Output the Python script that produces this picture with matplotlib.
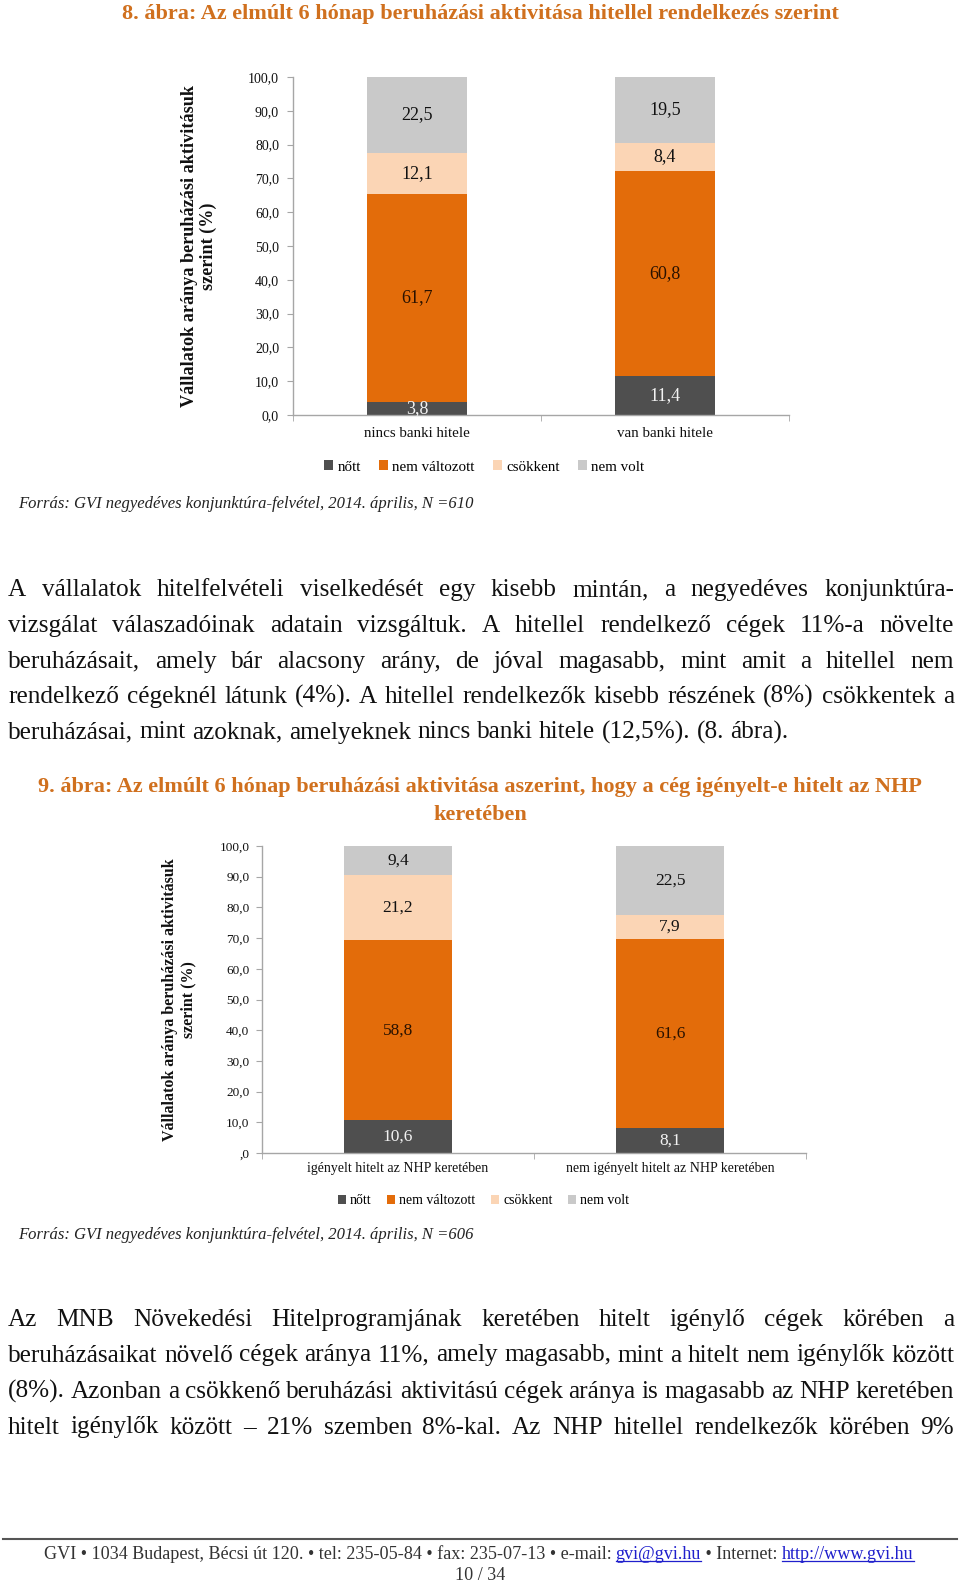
import matplotlib
matplotlib.use("Agg")
import matplotlib.pyplot as plt
from matplotlib.patches import Patch

# ---------------- data ----------------
series_names = ["nőtt", "nem változott", "csökkent", "nem volt"]
series_colors = ["#4F4F4F", "#E36C0A", "#FBD5B5", "#C9C9C9"]
label_colors = ["#F2F2F2", "#2A1200", "#111111", "#111111"]

categories_1 = ["nincs banki hitele", "van banki hitele"]
nott_1 = [3.8, 11.4]
nem_valtozott_1 = [61.7, 60.8]
csokkent_1 = [12.1, 8.4]
nem_volt_1 = [22.5, 19.5]

categories_2 = ["igényelt hitelt az NHP keretében", "nem igényelt hitelt az NHP keretében"]
nott_2 = [10.6, 8.1]
nem_valtozott_2 = [58.8, 61.6]
csokkent_2 = [21.2, 7.9]
nem_volt_2 = [9.4, 22.5]

yticks = [0, 10, 20, 30, 40, 50, 60, 70, 80, 90, 100]
yticklabels_1 = ["0,0", "10,0", "20,0", "30,0", "40,0", "50,0", "60,0", "70,0", "80,0", "90,0", "100,0"]
yticklabels_2 = [",0", "10,0", "20,0", "30,0", "40,0", "50,0", "60,0", "70,0", "80,0", "90,0", "100,0"]

title_1 = "8. ábra: Az elmúlt 6 hónap beruházási aktivitása hitellel rendelkezés szerint"
title_2a = "9. ábra: Az elmúlt 6 hónap beruházási aktivitása aszerint, hogy a cég igényelt-e hitelt az NHP"
title_2b = "keretében"
ylabel = "Vállalatok aránya beruházási aktivitásuk\nszerint (%)"
source_1 = "Forrás: GVI negyedéves konjunktúra-felvétel, 2014. április, N =610"
source_2 = "Forrás: GVI negyedéves konjunktúra-felvétel, 2014. április, N =606"

para_1 = [
    "A vállalatok hitelfelvételi viselkedését egy kisebb mintán, a negyedéves konjunktúra-",
    "vizsgálat válaszadóinak adatain vizsgáltuk. A hitellel rendelkező cégek 11%-a növelte",
    "beruházásait, amely bár alacsony arány, de jóval magasabb, mint amit a hitellel nem",
    "rendelkező cégeknél látunk (4%). A hitellel rendelkezők kisebb részének (8%) csökkentek a",
    "beruházásai, mint azoknak, amelyeknek nincs banki hitele (12,5%). (8. ábra).",
]
para_2 = [
    "Az MNB Növekedési Hitelprogramjának keretében hitelt igénylő cégek körében a",
    "beruházásaikat növelő cégek aránya 11%, amely magasabb, mint a hitelt nem igénylők között",
    "(8%). Azonban a csökkenő beruházási aktivitású cégek aránya is magasabb az NHP keretében",
    "hitelt igénylők között – 21% szemben 8%-kal. Az NHP hitellel rendelkezők körében 9%",
]
footer_parts = [
    ("GVI • 1034 Budapest, Bécsi út 120. • tel: 235-05-84 • fax: 235-07-13 • e-mail: ", False),
    ("gvi@gvi.hu", True),
    (" • Internet: ", False),
    ("http://www.gvi.hu", True),
]
page_no = "10 / 34"

# ---------------- layout helpers ----------------
W, H = 960, 1586
SERIF = ["Liberation Serif", "DejaVu Serif"]
TITLE_COLOR = "#D0701E"
plt.rcParams["font.family"] = SERIF

fig = plt.figure(figsize=(W / 100, H / 100), dpi=100)
fig.patch.set_facecolor("white")
renderer = fig.canvas.get_renderer()


def fx(x):
    return x / W


def fy(y):
    return 1 - y / H


def width_of(t):
    return t.get_window_extent(renderer).width


def fit_width(t, target):
    w = width_of(t)
    t.set_fontsize(t.get_fontsize() * target / w)


def make_chart(rect, cats, vals, ytl, tick_fs, lab_fs, cat_fs, cat_pad, ypad):
    l, b, w, h = rect
    ax = fig.add_axes([fx(l), fy(b), w / W, h / H])
    x = list(range(len(cats)))
    bottoms = [0.0] * len(cats)
    for s, (v, col, lc) in enumerate(zip(vals, series_colors, label_colors)):
        ax.bar(x, v, width=0.4, bottom=bottoms, color=col, edgecolor="none",
               label=series_names[s], zorder=2)
        for i in x:
            ax.text(i, bottoms[i] + v[i] / 2, f"{v[i]:.1f}".replace(".", ","),
                    ha="center", va="center", fontsize=lab_fs, color=lc, zorder=3)
        bottoms = [bb + vv for bb, vv in zip(bottoms, v)]
    ax.set_xlim(-0.5, len(cats) - 0.5)
    ax.set_ylim(0, 100)
    ax.set_yticks(yticks)
    ax.set_yticklabels(ytl, fontsize=tick_fs)
    ax.set_xticks(x)
    ax.set_xticklabels(cats, fontsize=cat_fs)
    ax.set_xticks([i - 0.5 for i in range(len(cats) + 1)], minor=True)
    for sp in ["top", "right"]:
        ax.spines[sp].set_visible(False)
    for sp in ["left", "bottom"]:
        ax.spines[sp].set_color("#A6A6A6")
        ax.spines[sp].set_linewidth(1.0)
    ax.tick_params(axis="y", length=4, color="#A6A6A6", pad=ypad, labelcolor="#111111")
    ax.tick_params(axis="x", which="major", length=0, pad=cat_pad, labelcolor="#111111")
    ax.tick_params(axis="x", which="minor", length=4, color="#A6A6A6")
    ax.set_facecolor("none")
    return ax


# ---------------- titles ----------------
t = fig.text(0.5, fy(14), title_1, ha="center", va="center", fontsize=16,
             fontweight="bold", color=TITLE_COLOR)
fit_width(t, 719)

t = fig.text(0.5, fy(787), title_2a, ha="center", va="center", fontsize=16,
             fontweight="bold", color=TITLE_COLOR)
fit_width(t, 888)
fs_t2 = t.get_fontsize()
fig.text(0.5, fy(815), title_2b, ha="center", va="center", fontsize=fs_t2,
         fontweight="bold", color=TITLE_COLOR)

# ---------------- chart 1 ----------------
ax1 = make_chart((293, 415, 496, 338), categories_1,
                 [nott_1, nem_valtozott_1, csokkent_1, nem_volt_1],
                 yticklabels_1, tick_fs=10, lab_fs=13, cat_fs=10.8, cat_pad=8.5, ypad=6)
t = fig.text(fx(199), fy(246), ylabel, rotation=90, ha="center", va="center",
             multialignment="center", fontsize=13, fontweight="bold", color="#111111",
             linespacing=1.2)
t.set_fontsize(13 * 319 / t.get_window_extent(renderer).height)

handles = [Patch(facecolor=c, edgecolor="none") for c in series_colors]
fig.legend(handles, series_names, loc="center", bbox_to_anchor=(fx(484), fy(467)),
           ncol=4, frameon=False, fontsize=10.8, handlelength=0.6, handleheight=0.6,
           handletextpad=0.3, columnspacing=1.2, borderaxespad=0)

t = fig.text(fx(18), fy(504), source_1, ha="left", va="center", fontsize=12,
             style="italic", color="#222222")
fit_width(t, 454)

# ---------------- chart 2 ----------------
ax2 = make_chart((262, 1153, 544, 307), categories_2,
                 [nott_2, nem_valtozott_2, csokkent_2, nem_volt_2],
                 yticklabels_2, tick_fs=9.5, lab_fs=12.5, cat_fs=10, cat_pad=6.5, ypad=5)
t = fig.text(fx(179), fy(1000), ylabel, rotation=90, ha="center", va="center",
             multialignment="center", fontsize=12, fontweight="bold", color="#111111",
             linespacing=1.2)
t.set_fontsize(12 * 281 / t.get_window_extent(renderer).height)

fig.legend(handles, series_names, loc="center", bbox_to_anchor=(fx(483.5), fy(1201)),
           ncol=4, frameon=False, fontsize=10, handlelength=0.6, handleheight=0.6,
           handletextpad=0.3, columnspacing=1.1, borderaxespad=0)

t = fig.text(fx(18), fy(1235), source_2, ha="left", va="center", fontsize=12,
             style="italic", color="#222222")
fit_width(t, 454)

# ---------------- paragraphs (justified) ----------------
X0, X1 = 8, 954
probe = fig.text(0, 0, para_1[-1], fontsize=10)
body_fs = 10 * 782 / width_of(probe)
probe.remove()


def put_line(line, y_center, justify):
    fs = body_fs
    words = line.split(" ")
    ts = [fig.text(0, 0, w_, fontsize=fs, va="baseline", ha="left", color="#111111")
          for w_ in words]
    full = fig.text(0, 0, line, fontsize=fs)
    ws = [width_of(tt) for tt in ts]
    space = (width_of(full) - sum(ws)) / max(len(words) - 1, 1)
    full.remove()
    if justify:
        gap = (X1 - X0 - sum(ws)) / max(len(words) - 1, 1)
        if gap < space * 0.55:
            scale = (X1 - X0 - space * 0.55 * (len(words) - 1)) / sum(ws)
            for tt in ts:
                tt.set_fontsize(fs * scale)
            ws = [w_ * scale for w_ in ws]
            gap = space * 0.55
    else:
        gap = space
    x = X0
    for tt, w_ in zip(ts, ws):
        tt.set_position((fx(x), fy(y_center + 6)))
        x += w_ + gap


p1_y = [590, 625.5, 661.5, 697, 732.5]
for i, (line, y) in enumerate(zip(para_1, p1_y)):
    put_line(line, y, justify=(i < len(para_1) - 1))

p2_y = [1320, 1355.5, 1392, 1427.5]
for line, y in zip(para_2, p2_y):
    put_line(line, y, justify=True)

# ---------------- footer ----------------
fig.add_artist(plt.Line2D([fx(3), fx(957)], [fy(1539), fy(1539)], color="#555555",
                          linewidth=1.5, transform=fig.transFigure))
foot_fs = 11
ftexts = []
for s, link in footer_parts:
    ftexts.append(fig.text(0, 0, s, fontsize=foot_fs, va="baseline",
                           color="#1F1FCC" if link else "#333333"))
total = sum(width_of(tt) for tt in ftexts)
scale = 874 / total
for tt in ftexts:
    tt.set_fontsize(foot_fs * scale)
x = 43.5
for (s, link), tt in zip(footer_parts, ftexts):
    w_ = width_of(tt)
    tt.set_position((fx(x), fy(1559)))
    if link:
        fig.add_artist(plt.Line2D([fx(x), fx(x + w_)], [fy(1561), fy(1561)],
                                  color="#1F1FCC", linewidth=0.9,
                                  transform=fig.transFigure))
    x += w_
fig.text(0.5, fy(1576), page_no, ha="center", va="center", fontsize=foot_fs * scale,
         color="#333333")

fig.savefig("out.png", dpi=100, facecolor="white")
